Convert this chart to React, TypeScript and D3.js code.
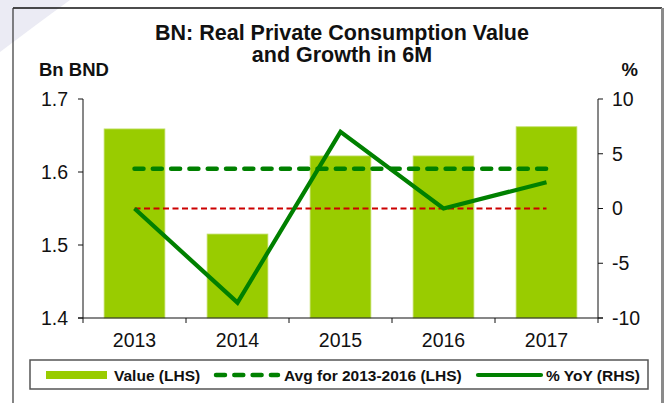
import React from "react";
import * as d3 from "d3";

const categories = ["2013", "2014", "2015", "2016", "2017"];
const values = [1.659, 1.515, 1.622, 1.622, 1.662];
const yoy = [0.0, -8.6, 7.0, 0.0, 2.4];
const avgYears = ["2013", "2014", "2015", "2016"];
const leftTicks = [1.4, 1.5, 1.6, 1.7];
const rightTicks = [-10, -5, 0, 5, 10];
const titleLines = ["BN: Real Private Consumption Value", "and Growth in 6M"];
const legendLabels = ["Value (LHS)", "Avg for 2013-2016 (LHS)", "% YoY (RHS)"];

const W = 664;
const H = 403;
const plot = { left: 83, right: 598, top: 99, bottom: 318 };
const FONT = "'Liberation Sans', Arial, sans-serif";

export default function App() {
  const x = d3.scaleBand<string>().domain(categories).range([plot.left, plot.right]).paddingInner(0.41).paddingOuter(0.205);
  const xc = (c: string) => (x(c) as number) + x.bandwidth() / 2;
  const yL = d3.scaleLinear().domain([1.4, 1.7]).range([plot.bottom, plot.top]);
  const yR = d3.scaleLinear().domain([-10, 10]).range([plot.bottom, plot.top]);
  const step = (plot.right - plot.left) / categories.length;

  const avg = d3.mean(values.slice(0, avgYears.length)) as number;
  const line = d3
    .line<number>()
    .x((_, i) => xc(categories[i]))
    .y((d) => yR(d));

  const first = xc(categories[0]);
  const last = xc(categories[categories.length - 1]);

  return (
    <svg width={W} height={H} style={{ position: "absolute", left: 0, top: 0, background: "#fff" }}>
      <polygon points="0,0 70,0 40,22 0,52" fill="#ebebf4" />
      {/* chart frame */}
      <line x1={13} y1={8} x2={662} y2={8} stroke="#111" strokeWidth={1.5} />
      <line x1={13} y1={8} x2={13} y2={H} stroke="#333" strokeWidth={1.2} />
      <line x1={662.5} y1={8} x2={662.5} y2={H} stroke="#8a8a8a" strokeWidth={3} />

      {/* title */}
      {titleLines.map((t, i) => (
        <text key={i} x={342} y={40 + i * 22} textAnchor="middle" fontFamily={FONT} fontWeight="bold" fontSize={21.5} fill="#111">
          {t}
        </text>
      ))}
      <text x={39} y={76} fontFamily={FONT} fontWeight="bold" fontSize={18.5} fill="#111">Bn BND</text>
      <text x={638} y={76} textAnchor="end" fontFamily={FONT} fontWeight="bold" fontSize={18.5} fill="#111">%</text>

      {/* bars */}
      {categories.map((c, i) => (
        <rect
          key={c}
          x={x(c)}
          y={yL(values[i])}
          width={x.bandwidth()}
          height={plot.bottom - yL(values[i])}
          fill="#99CC00"
          stroke="#c2df6a"
          strokeWidth={0.8}
        />
      ))}

      {/* zero line (RHS) */}
      <line x1={first} x2={last} y1={yR(0)} y2={yR(0)} stroke="#cc0000" strokeWidth={2} strokeDasharray="6,3.5" />
      {/* avg line */}
      <line x1={first} x2={last} y1={yL(avg)} y2={yL(avg)} stroke="#008000" strokeWidth={4.5} strokeDasharray="9,9.3" strokeLinecap="round" />
      {/* yoy */}
      <path d={line(yoy) as string} fill="none" stroke="#008000" strokeWidth={4.2} strokeLinejoin="miter" />

      {/* axes */}
      <line x1={plot.left} x2={plot.left} y1={plot.top} y2={plot.bottom} stroke="#111" strokeWidth={1} />
      <line x1={plot.right} x2={plot.right} y1={plot.top} y2={plot.bottom} stroke="#111" strokeWidth={1} />
      <line x1={plot.left - 5} x2={plot.right + 5} y1={plot.bottom} y2={plot.bottom} stroke="#111" strokeWidth={1.2} />
      {leftTicks.map((t) => (
        <g key={t}>
          <line x1={plot.left - 5} x2={plot.left} y1={yL(t)} y2={yL(t)} stroke="#111" />
          <text x={68} y={yL(t)} dy="0.35em" textAnchor="end" fontFamily={FONT} fontSize={19.5} fill="#111">
            {d3.format(".1f")(t)}
          </text>
        </g>
      ))}
      {rightTicks.map((t) => (
        <g key={t}>
          <line x1={plot.right} x2={plot.right + 5} y1={yR(t)} y2={yR(t)} stroke="#111" />
          <text x={612} y={yR(t)} dy="0.35em" fontFamily={FONT} fontSize={19.5} fill="#111">
            {t}
          </text>
        </g>
      ))}
      {d3.range(categories.length + 1).map((i) => (
        <line key={i} x1={plot.left + i * step} x2={plot.left + i * step} y1={plot.bottom} y2={plot.bottom + 5} stroke="#111" />
      ))}
      {categories.map((c) => (
        <text key={c} x={xc(c)} y={347} textAnchor="middle" fontFamily={FONT} fontSize={19.5} fill="#111">
          {c}
        </text>
      ))}

      {/* legend */}
      <rect x={30} y={360} width={618} height={29} fill="#fff" stroke="#555" strokeWidth={1.5} />
      <rect x={46} y={371} width={61} height={8} fill="#99CC00" />
      <text x={114} y={380.5} fontFamily={FONT} fontWeight="bold" fontSize={15.5} fill="#111">{legendLabels[0]}</text>
      <line x1={216} x2={278} y1={375} y2={375} stroke="#008000" strokeWidth={4.5} strokeDasharray="9,9.3" strokeLinecap="round" />
      <text x={284} y={380.5} fontFamily={FONT} fontWeight="bold" fontSize={15.5} fill="#111">{legendLabels[1]}</text>
      <line x1={478} x2={541} y1={375} y2={375} stroke="#008000" strokeWidth={4.2} strokeLinecap="round" />
      <text x={546} y={380.5} fontFamily={FONT} fontWeight="bold" fontSize={15.5} fill="#111">{legendLabels[2]}</text>
    </svg>
  );
}
